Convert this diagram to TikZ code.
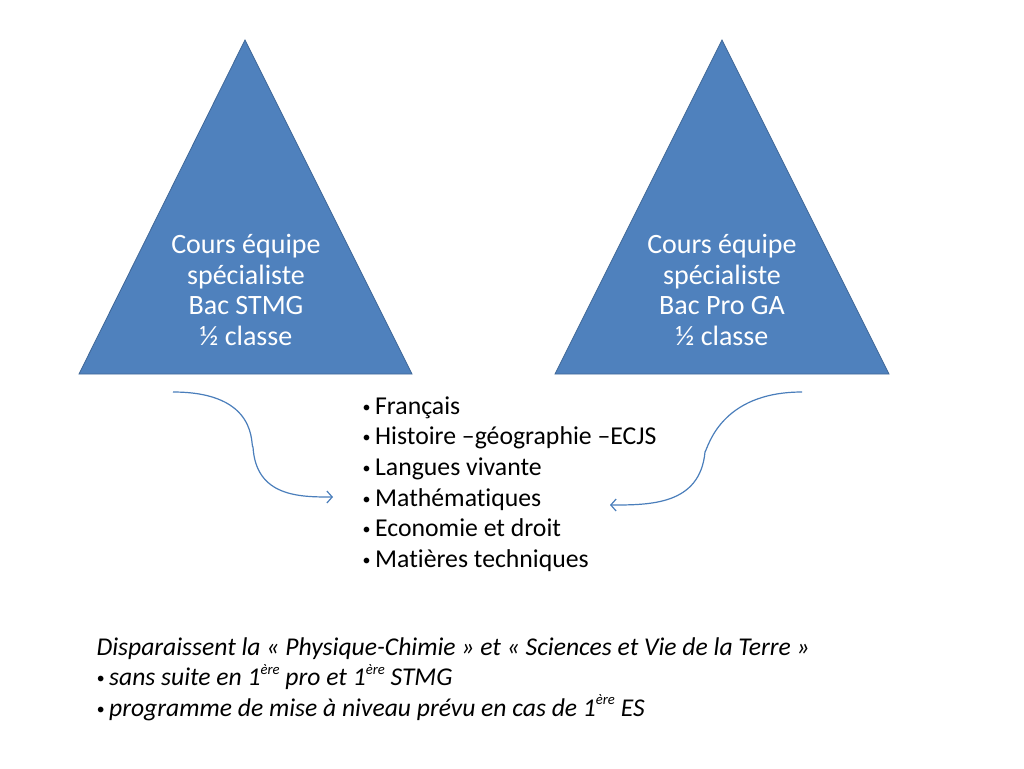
\documentclass[tikz,border=0pt]{standalone}
\usepackage{fontspec}
\setmainfont{Carlito}[Ligatures=NoCommon]
\usetikzlibrary{arrows.meta,positioning}
\definecolor{triblue}{RGB}{79,129,189}
\definecolor{arrowblue}{RGB}{74,126,187}
\newcommand{\bul}{{\fontsize{12}{12}\selectfont\raisebox{1.5pt}{•}}\hspace{3.5pt}}
\newcommand{\expo}[1]{\raisebox{0.95ex}{\fontsize{11}{11}\selectfont #1}}

\begin{document}
\begin{tikzpicture}[x=0.75pt,y=-0.75pt,thick,>=stealth]
      \tikzstyle{tri}=[fill=triblue,draw=triblue!80!black,line width=0.6pt]
      \tikzstyle{tritext}=[text=white,align=center,font=\fontsize{21}{23}\selectfont]
      \tikzstyle{list}=[align=left,font=\fontsize{19.3}{23}\selectfont,inner sep=0pt]
      \tikzstyle{link}=[draw=arrowblue,line width=0.9pt,-{Straight Barb[length=4pt,width=9pt]}]

      \useasboundingbox (0,0) rectangle (1024,768);

      % triangles
      \fill[tri] (245,40) -- (412,374) -- (79,374) -- cycle;
      \fill[tri] (722,40) -- (889,374) -- (555,374) -- cycle;

      \node[tritext] (stmg) at (246,290) {Cours équipe\\spécialiste\\Bac STMG\\½ classe};
      \node[tritext] (proga) at (722,290) {Cours équipe\\spécialiste\\Bac Pro GA\\½ classe};

      \node[list,anchor=north west] (subjects) at (362,396)
        {\bul Français\\\bul Histoire –géographie –ECJS\\\bul Langues vivante\\\bul Mathématiques\\\bul Economie et droit\\\bul Matières techniques};

      \node[list,anchor=north west,font=\fontsize{19.2}{23}\selectfont\itshape] (note) at (96,637)
        {Disparaissent la « Physique-Chimie » et « Sciences et Vie de la Terre »\\
         \bul sans suite en 1\expo{ère} pro et 1\expo{ère} STMG\\
         \bul programme de mise à niveau prévu en cas de 1\expo{ère} ES};

      \coordinate (s1) at (173,392);
      \coordinate (e1) at (333,497);
      \coordinate (s2) at (802,392);
      \coordinate (e2) at (610,505);

      \draw[link] (s1) .. controls (260,392) and (250,447) .. (253,447)
                       .. controls (256,497) and (300,497) .. (e1);
      \draw[link] (s2) .. controls (720,392) and (708,448) .. (705,452)
                       .. controls (700,505) and (650,505) .. (e2);
    \end{tikzpicture}
\end{document}
